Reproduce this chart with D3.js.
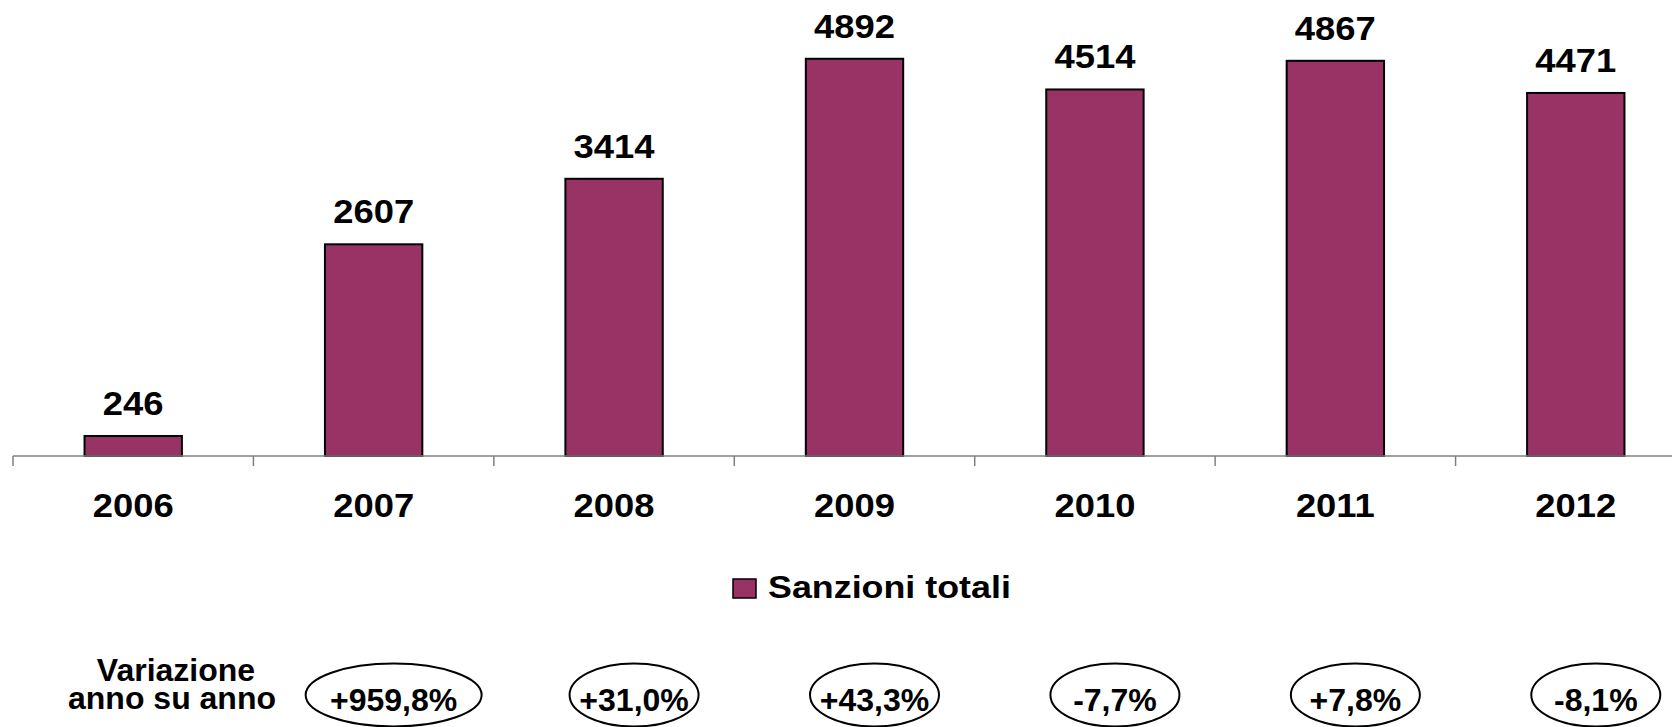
<!DOCTYPE html>
<html>
<head>
<meta charset="utf-8">
<script src="https://cdn.jsdelivr.net/npm/d3@7"></script>
<style>
  body { margin: 0; background: #fff; }
  text { font-family: "Liberation Sans", Arial, sans-serif; font-weight: bold; fill: #000; }
</style>
</head>
<body>
<script>
// data
const years = ['2006', '2007', '2008', '2009', '2010', '2011', '2012']
const sanzioni = [246, 2607, 3414, 4892, 4514, 4867, 4471]
const variazioneYears = ['2007', '2008', '2009', '2010', '2011', '2012']
const variazione = ['+959,8%', '+31,0%', '+43,3%', '-7,7%', '+7,8%', '-8,1%']
const seriesName = 'Sanzioni totali'

const W = 1672, H = 727
const stretch = 1.12 // chart text in the picture is a bit wider than normal

const svg = d3.select('body').append('svg')
    .attr('width', W)
    .attr('height', H)

// band per year, last one runs off the right edge like the original
const x = d3.scaleBand()
    .domain(years)
    .range([13, 1696])
    .padding(0)

const y = d3.scaleLinear()
    .domain([0, 5000])
    .range([456, 50])

const barW = x.bandwidth() * 0.405
const cx = d => x(d) + x.bandwidth() / 2

const bars = years.map((yr, i) => ({ year: yr, value: sanzioni[i] }))

// bars
svg.selectAll('.bar')
    .data(bars)
    .enter()
    .append('rect')
        .attr('class', 'bar')
        .attr('x', d => cx(d.year) - barW / 2)
        .attr('y', d => y(d.value))
        .attr('width', barW)
        .attr('height', d => y(0) - y(d.value))
        .attr('fill', '#993366')
        .attr('stroke', '#000')
        .attr('stroke-width', 2)

// category axis: line plus ticks on the band edges
svg.append('line')
    .attr('x1', x(years[0]))
    .attr('x2', W)
    .attr('y1', y(0))
    .attr('y2', y(0))
    .attr('stroke', '#808080')
    .attr('stroke-width', 1.5)

svg.selectAll('.tick')
    .data(years)
    .enter()
    .append('line')
        .attr('x1', d => x(d))
        .attr('x2', d => x(d))
        .attr('y1', y(0))
        .attr('y2', y(0) + 10)
        .attr('stroke', '#808080')
        .attr('stroke-width', 1.5)

// value labels
svg.selectAll('.val')
    .data(bars)
    .enter()
    .append('text')
        .attr('transform', d => `translate(${cx(d.year)},${y(d.value) - 21}) scale(${stretch},1)`)
        .attr('text-anchor', 'middle')
        .attr('font-size', '32.5px')
        .text(d => d.value)

// year labels
svg.selectAll('.yr')
    .data(years)
    .enter()
    .append('text')
        .attr('transform', d => `translate(${cx(d)},517) scale(${stretch},1)`)
        .attr('text-anchor', 'middle')
        .attr('font-size', '32.5px')
        .text(d => d)

// legend
svg.append('rect')
    .attr('x', 733)
    .attr('y', 579)
    .attr('width', 23)
    .attr('height', 19)
    .attr('fill', '#993366')
    .attr('stroke', '#000')
    .attr('stroke-width', 1.5)

svg.append('text')
    .attr('transform', `translate(768,598) scale(${stretch},1)`)
    .attr('font-size', '32px')
    .text(seriesName)

// row title
const title = svg.append('text')
    .attr('text-anchor', 'middle')
    .attr('font-size', '32px')
title.append('tspan').attr('x', 176).attr('y', 681).text('Variazione')
title.append('tspan').attr('x', 172).attr('y', 709).text('anno su anno')

// year-on-year change in ellipses
const changes = variazioneYears.map((yr, i) => ({ year: yr, label: variazione[i] }))
const ex = d => cx(d.year) + 20

const cg = svg.selectAll('.chg')
    .data(changes)
    .enter()
    .append('g')

cg.append('ellipse')
    .attr('cx', ex)
    .attr('cy', 695)
    .attr('rx', d => d.label.length > 6 ? 88 : 64.5)
    .attr('ry', 31.5)
    .attr('fill', 'none')
    .attr('stroke', '#000')
    .attr('stroke-width', 2)

cg.append('text')
    .attr('x', ex)
    .attr('y', 711)
    .attr('text-anchor', 'middle')
    .attr('font-size', '32px')
    .text(d => d.label)
</script>
</body>
</html>
